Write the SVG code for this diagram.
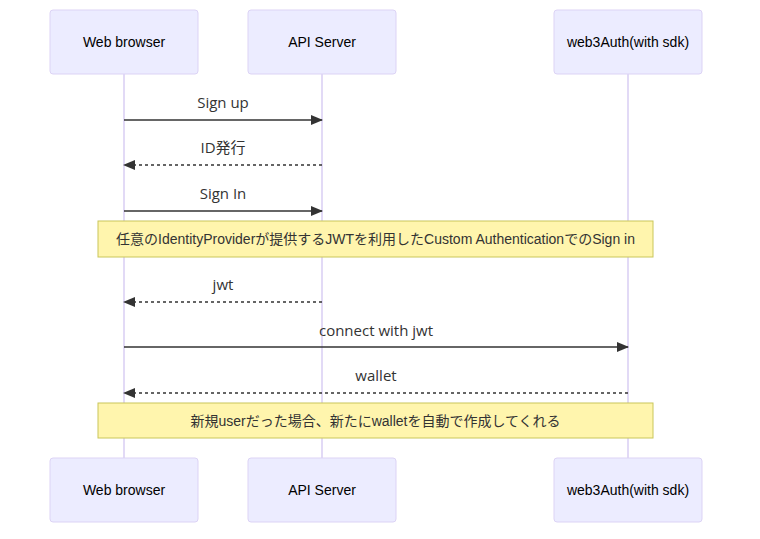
<svg xmlns="http://www.w3.org/2000/svg" width="760" height="539" viewBox="0 0 760 539">
<style>
.actor{fill:#ECECFF;stroke:#DCD3F5;stroke-width:1}
.atext{font-family:"Liberation Sans","Noto Sans CJK JP",sans-serif;font-size:14px;fill:#000;text-anchor:middle;dominant-baseline:central}
.life{stroke:#D9CEF3;stroke-width:1.5}
.msg{stroke:#333;stroke-width:1.5;fill:none}
.dash{stroke-dasharray:3,3}
.mtext{font-family:"Open Sans","Noto Sans CJK JP",sans-serif;font-size:15px;fill:#333;text-anchor:middle}
.note{fill:#FFF5AD;stroke:#C9C65A;stroke-width:1}
.ntext{font-family:"Liberation Sans","Noto Sans CJK JP",sans-serif;font-size:14px;fill:#333;text-anchor:middle;dominant-baseline:central}
</style>
<defs>
<marker id="ah" viewBox="0 0 12 10" refX="11" refY="5" markerWidth="12" markerHeight="10" markerUnits="userSpaceOnUse" orient="auto">
<path d="M0,0 L12,5 L0,10 z" fill="#333"/>
</marker>
</defs>
<rect width="760" height="539" fill="#fff"/>
<g id="lifelines">
<line class="life" x1="124" y1="74" x2="124" y2="458"/>
<line class="life" x1="322" y1="74" x2="322" y2="458"/>
<line class="life" x1="628" y1="74" x2="628" y2="458"/>
</g>
<g id="actor-web-top"><rect class="actor" x="50" y="10" width="148" height="64" rx="3"/><text class="atext" x="124" y="42">Web browser</text></g>
<g id="actor-api-top"><rect class="actor" x="248" y="10" width="148" height="64" rx="3"/><text class="atext" x="322" y="42">API Server</text></g>
<g id="actor-w3a-top"><rect class="actor" x="554" y="10" width="148" height="64" rx="3"/><text class="atext" x="628" y="42">web3Auth(with sdk)</text></g>
<g id="actor-web-bottom"><rect class="actor" x="50" y="458" width="148" height="64" rx="3"/><text class="atext" x="124" y="490">Web browser</text></g>
<g id="actor-api-bottom"><rect class="actor" x="248" y="458" width="148" height="64" rx="3"/><text class="atext" x="322" y="490">API Server</text></g>
<g id="actor-w3a-bottom"><rect class="actor" x="554" y="458" width="148" height="64" rx="3"/><text class="atext" x="628" y="490">web3Auth(with sdk)</text></g>
<g id="connectors">
<line class="msg" x1="124" y1="120" x2="322" y2="120" marker-end="url(#ah)"/>
<text class="mtext" x="223" y="108">Sign up</text>
<line class="msg dash" x1="322" y1="165" x2="124" y2="165" marker-end="url(#ah)"/>
<text class="mtext" x="223" y="153">ID発行</text>
<line class="msg" x1="124" y1="211" x2="322" y2="211" marker-end="url(#ah)"/>
<text class="mtext" x="223" y="199">Sign In</text>
<line class="msg dash" x1="322" y1="302" x2="124" y2="302" marker-end="url(#ah)"/>
<text class="mtext" x="223" y="290">jwt</text>
<line class="msg" x1="124" y1="347" x2="628" y2="347" marker-end="url(#ah)"/>
<text class="mtext" x="376" y="336">connect with jwt</text>
<line class="msg dash" x1="628" y1="393" x2="124" y2="393" marker-end="url(#ah)"/>
<text class="mtext" x="376" y="381">wallet</text>
</g>
<g id="note-1"><rect class="note" x="98" y="221" width="555" height="36"/><text class="ntext" x="375.5" y="239">任意のIdentityProviderが提供するJWTを利用したCustom AuthenticationでのSign in</text></g>
<g id="note-2"><rect class="note" x="98" y="403" width="555" height="35"/><text class="ntext" x="375.5" y="420.5">新規userだった場合、新たにwalletを自動で作成してくれる</text></g>
</svg>
